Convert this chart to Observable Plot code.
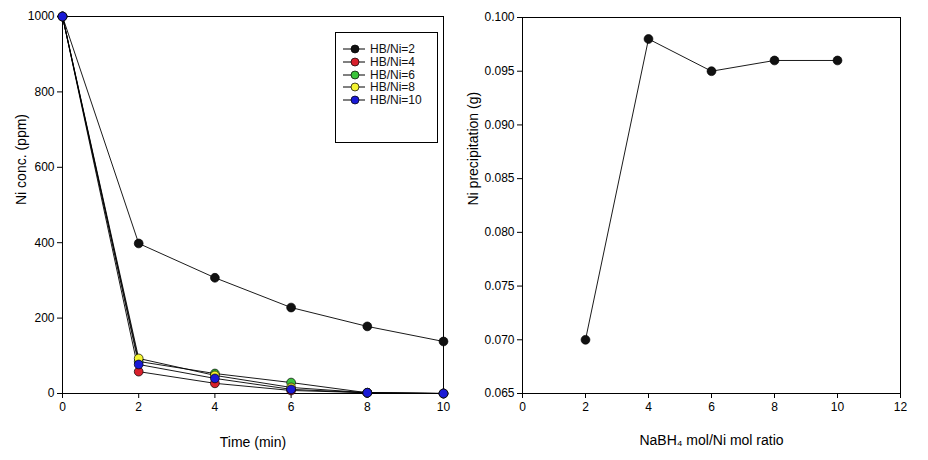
<!DOCTYPE html>
<html>
<head>
<meta charset="utf-8">
<script src="https://cdn.jsdelivr.net/npm/d3@7"></script>
<script src="https://cdn.jsdelivr.net/npm/@observablehq/plot@0.6"></script>
<style>
  body { margin: 0; background: #fff; }
  #wrap { position: relative; width: 928px; height: 460px; display: flex; font-family: "Liberation Sans", Arial, sans-serif; }
  #legend { position: absolute; left: 335px; top: 32px; width: 103px; height: 111px; border: 1px solid #000; background: #fff; box-sizing: border-box; }
  .item { position: absolute; left: 7px; height: 12px; line-height: 12px; display: flex; align-items: center; font-size: 12px; color: #111; white-space: nowrap; }
  .item svg { margin-right: 5px; display: block; }
</style>
</head>
<body>
<div id="wrap"></div>
<script>
// ---- data ----
const times = [0, 2, 4, 6, 8, 10];
const seriesNames = ["HB/Ni=2", "HB/Ni=4", "HB/Ni=6", "HB/Ni=8", "HB/Ni=10"];
const seriesColors = ["#111111", "#d8202c", "#3cc43c", "#f4f430", "#1a1ad6"];
const concHB2 = [1000, 398, 307, 228, 178, 138];
const concHB4 = [1000, 58, 27, 8, 2, 0];
const concHB6 = [1000, 85, 53, 29, 2, 0];
const concHB8 = [1000, 93, 48, 16, 2, 0];
const concHB10 = [1000, 77, 40, 11, 2, 0];
const timeTicks = [0, 2, 4, 6, 8, 10];
const concTicks = [0, 200, 400, 600, 800, 1000];

const ratios = [2, 4, 6, 8, 10];
const precipitation = [0.070, 0.098, 0.095, 0.096, 0.096];
const ratioTicks = [0, 2, 4, 6, 8, 10, 12];
const precipTicks = [0.065, 0.070, 0.075, 0.080, 0.085, 0.090, 0.095, 0.100];

// ---- build table ----
const concSeries = [concHB2, concHB4, concHB6, concHB8, concHB10];
const concData = [];
concSeries.forEach((vals, i) => vals.forEach((v, j) => concData.push({series: seriesNames[i], color: seriesColors[i], t: times[j], c: v})));
const precipData = ratios.map((r, i) => ({r, p: precipitation[i]}));

const font = '"Liberation Sans", Arial, sans-serif';

const left = Plot.plot({
  width: 464, height: 460,
  marginLeft: 62, marginRight: 21, marginTop: 16, marginBottom: 67,
  style: {fontFamily: font, fontSize: "12px", color: "#000", background: "#fff"},
  x: {domain: [0, 10]},
  y: {domain: [0, 1000]},
  marks: [
    Plot.frame({stroke: "#000"}),
    Plot.axisX({ticks: timeTicks, tickSize: 5, tickPadding: 4, label: null, tickFormat: d3.format("d"), fontSize: 12}),
    Plot.axisY({ticks: concTicks, tickSize: 5, tickPadding: 3, label: null, tickFormat: d3.format("d"), fontSize: 12}),
    Plot.line(concData, {x: "t", y: "c", z: "series", stroke: "#000", strokeWidth: 0.9}),
    Plot.dot(concData, {x: "t", y: "c", fill: "color", stroke: "#000", strokeWidth: 0.7, r: 4.4}),
    Plot.text(["Time (min)"], {frameAnchor: "bottom", dy: 53, fontSize: 14, fill: "#000"}),
    Plot.text(["Ni conc. (ppm)"], {frameAnchor: "left", dx: -41, rotate: -90, fontSize: 14, fill: "#000"})
  ]
});

const right = Plot.plot({
  width: 464, height: 460,
  marginLeft: 58, marginRight: 28, marginTop: 17, marginBottom: 67,
  style: {fontFamily: font, fontSize: "12px", color: "#000", background: "#fff"},
  x: {domain: [0, 12]},
  y: {domain: [0.065, 0.100]},
  marks: [
    Plot.frame({stroke: "#000"}),
    Plot.axisX({ticks: ratioTicks, tickSize: 5, tickPadding: 4, label: null, tickFormat: d3.format("d"), fontSize: 12}),
    Plot.axisY({ticks: precipTicks, tickSize: 5, tickPadding: 3, label: null, tickFormat: d3.format(".3f"), fontSize: 12}),
    Plot.line(precipData, {x: "r", y: "p", stroke: "#000", strokeWidth: 0.9}),
    Plot.dot(precipData, {x: "r", y: "p", fill: "#111", stroke: "#000", strokeWidth: 0.7, r: 4.4}),
    Plot.text(["NaBH₄ mol/Ni mol ratio"], {frameAnchor: "bottom", dy: 51, fontSize: 14, fill: "#000"}),
    Plot.text(["Ni precipitation (g)"], {frameAnchor: "left", dx: -49, rotate: -90, fontSize: 14, fill: "#000"})
  ]
});

const wrap = document.getElementById("wrap");
wrap.appendChild(left);
wrap.appendChild(right);

// legend
const legend = document.createElement("div");
legend.id = "legend";
seriesNames.forEach((name, i) => {
  const item = document.createElement("div");
  item.className = "item";
  item.style.top = (10 + i * 12.8) + "px";
  item.innerHTML = `<svg width="22" height="10"><line x1="0" y1="5" x2="22" y2="5" stroke="#000" stroke-width="1"/><circle cx="12" cy="5" r="4" fill="${seriesColors[i]}" stroke="#000" stroke-width="0.7"/></svg><span>${name}</span>`;
  legend.appendChild(item);
});
wrap.appendChild(legend);
</script>
</body>
</html>
